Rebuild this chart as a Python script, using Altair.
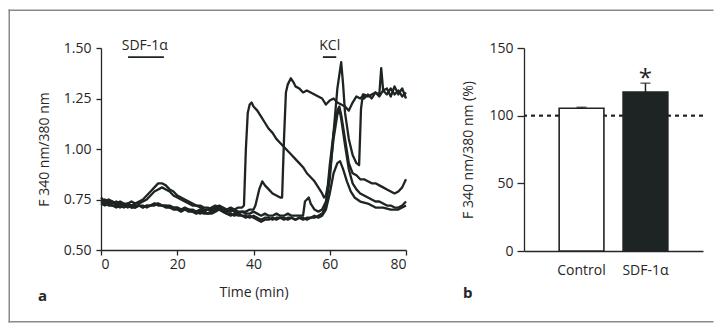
import altair as alt
import pandas as pd

# ---------------- panel a: ratio traces ----------------
A_t = list(range(0, 38)) + [37.5, 38, 38.5, 39, 39.5] + list(range(40, 59)) + \
      [58.5, 59, 59.5, 60, 61, 62, 62.5, 63, 64] + list(range(65, 81))
A_v = [0.75, 0.74, 0.75, 0.74, 0.73, 0.74, 0.73, 0.73, 0.74, 0.73,
       0.74, 0.75, 0.77, 0.79, 0.81, 0.83, 0.83, 0.82, 0.80, 0.79,
       0.77, 0.76, 0.75, 0.74, 0.73, 0.72, 0.72, 0.71, 0.71, 0.70,
       0.71, 0.72, 0.71, 0.70, 0.71, 0.70, 0.71, 0.71,
       0.72, 1.00, 1.18, 1.22, 1.23,
       1.21, 1.19, 1.16, 1.13, 1.10, 1.08, 1.05, 1.03, 1.01, 0.99,
       0.97, 0.95, 0.93, 0.91, 0.88, 0.86, 0.84, 0.81, 0.78,
       0.76, 0.77, 0.82, 0.92, 1.08, 1.19, 1.21, 1.17, 1.05,
       0.93, 0.88, 0.87, 0.85, 0.85, 0.84, 0.83, 0.83, 0.82, 0.81,
       0.80, 0.79, 0.78, 0.79, 0.81, 0.85]

B_t = list(range(0, 41)) + [40.5, 41.5, 42.3, 43, 44, 45, 46, 47, 47.5, 48, 48.5, 49, 49.8, 50.5] + \
      list(range(51, 81))
B_v = [0.74, 0.75, 0.74, 0.73, 0.74, 0.73, 0.72, 0.73, 0.72, 0.73,
       0.73, 0.74, 0.75, 0.77, 0.79, 0.80, 0.81, 0.80, 0.79, 0.77,
       0.76, 0.75, 0.74, 0.73, 0.72, 0.72, 0.71, 0.70, 0.70, 0.69,
       0.70, 0.71, 0.70, 0.69, 0.69, 0.70, 0.69, 0.69, 0.69, 0.70,
       0.70,
       0.72, 0.80, 0.84, 0.82, 0.80, 0.78, 0.77, 0.76, 0.76, 1.05, 1.28, 1.32, 1.35, 1.33,
       1.31, 1.30, 1.28, 1.29, 1.28, 1.27, 1.26, 1.25, 1.22, 1.24,
       1.25, 1.23, 1.22, 1.21, 1.19, 1.23, 1.26, 1.25, 1.27, 1.26,
       1.27, 1.28, 1.26, 1.29, 1.27, 1.30, 1.27, 1.29, 1.26, 1.28]

C_t = list(range(0, 60)) + [60, 61, 62, 63, 63.5, 64, 65, 66, 67, 67.7, 68.2, 68.7] + \
      [69, 70, 71, 72, 73, 73.5, 74, 75, 76, 77, 78, 79, 80]
C_v = [0.73, 0.72, 0.73, 0.72, 0.72, 0.71, 0.72, 0.72, 0.71, 0.72,
       0.72, 0.71, 0.72, 0.72, 0.73, 0.72, 0.72, 0.71, 0.71, 0.70,
       0.70, 0.69, 0.70, 0.69, 0.69, 0.68, 0.69, 0.68, 0.68, 0.69,
       0.70, 0.70, 0.69, 0.68, 0.68, 0.67, 0.68, 0.67, 0.67, 0.66,
       0.67, 0.66, 0.65, 0.66, 0.66, 0.65, 0.66, 0.66, 0.65, 0.66,
       0.66, 0.65, 0.66, 0.66, 0.65, 0.66, 0.66, 0.67, 0.68, 0.72,
       0.85, 1.08, 1.30, 1.43, 1.32, 1.18, 1.05, 0.97, 0.93, 0.92, 1.20, 1.27,
       1.25, 1.27, 1.25, 1.28, 1.27, 1.40, 1.29, 1.30, 1.26, 1.31, 1.27, 1.30, 1.25]

D_t = list(range(0, 54)) + [53.5, 54.5, 55, 56, 57, 58, 59, 60, 61, 62, 62.5, 63, 64] + \
      list(range(65, 81))
D_v = [0.76, 0.74, 0.73, 0.74, 0.72, 0.73, 0.72, 0.71, 0.72, 0.71,
       0.72, 0.72, 0.71, 0.72, 0.72, 0.73, 0.72, 0.72, 0.72, 0.71,
       0.71, 0.70, 0.70, 0.70, 0.69, 0.69, 0.70, 0.69, 0.70, 0.71,
       0.72, 0.71, 0.70, 0.69, 0.70, 0.69, 0.68, 0.69, 0.68, 0.68,
       0.69, 0.68, 0.67, 0.68, 0.67, 0.67, 0.68, 0.67, 0.67, 0.68,
       0.67, 0.67, 0.67, 0.67,
       0.74, 0.76, 0.73, 0.70, 0.69, 0.70, 0.74, 0.88, 1.05, 1.17, 1.20, 1.15, 1.02,
       0.90, 0.83, 0.80, 0.78, 0.77, 0.76, 0.75, 0.74, 0.74, 0.73,
       0.72, 0.72, 0.71, 0.71, 0.72, 0.74]

E_t = list(range(0, 62)) + [62, 62.7, 63.5, 64.5, 65.5, 66.5, 68, 70, 72, 74, 76, 78, 79, 80]
E_v = [0.74, 0.73, 0.72, 0.72, 0.71, 0.72, 0.71, 0.72, 0.71, 0.71,
       0.72, 0.71, 0.72, 0.72, 0.73, 0.73, 0.72, 0.72, 0.71, 0.71,
       0.71, 0.70, 0.71, 0.70, 0.70, 0.69, 0.68, 0.69, 0.68, 0.68,
       0.69, 0.70, 0.69, 0.68, 0.67, 0.68, 0.67, 0.67, 0.66, 0.67,
       0.66, 0.65, 0.64, 0.65, 0.65, 0.66, 0.65, 0.66, 0.66, 0.65,
       0.66, 0.65, 0.66, 0.65, 0.66, 0.66, 0.67, 0.66, 0.67, 0.70,
       0.78, 0.88,
       0.93, 0.94, 0.90, 0.84, 0.79, 0.76, 0.74, 0.73, 0.71, 0.71, 0.70, 0.70, 0.71, 0.72]

x_ticks = [0, 20, 40, 60, 80]
y_ticks = [0.5, 0.75, 1.0, 1.25, 1.5]

# stimulus annotations
stim_label = ["SDF-1\u03b1", "KCl"]
stim_start = [7.1, 58.2]
stim_end = [16.5, 61.7]
stim_text_t = [11.5, 60.0]
stim_bar_v = [1.455, 1.455]
stim_text_v = [1.512, 1.512]

# ---------------- panel b: bars ----------------
groups = ["Control", "SDF-1\u03b1"]
means = [105.5, 117.5]
errs = [0.7, 6.5]
bar_ticks = [0, 50, 100, 150]

FONT = "Open Sans"
INK = "#1e2424"
AX = "#262626"
FRAME = "#8a8a8a"

rows = []
for name, ts, vs in [("A", A_t, A_v), ("B", B_t, B_v), ("C", C_t, C_v),
                     ("D", D_t, D_v), ("E", E_t, E_v)]:
    assert len(ts) == len(vs), name
    rows += [{"trace": name, "t": t, "v": v} for t, v in zip(ts, vs)]
df = pd.DataFrame(rows)

stim = pd.DataFrame({"label": stim_label, "t0": stim_start, "t1": stim_end,
                     "tt": stim_text_t, "vb": stim_bar_v, "vt": stim_text_v})
one = pd.DataFrame({"k": [0]})


def frame_line(x0, x1, y0, y1):
    # thin filled rectangle used as a frame line
    return alt.Chart(one).mark_rect(color=FRAME, strokeWidth=0).encode(
        x=alt.value(x0), x2=alt.value(x1), y=alt.value(y0), y2=alt.value(y1))


xs = alt.Scale(domain=[0, 80], nice=False)
ys = alt.Scale(domain=[0.5, 1.5], nice=False)

lines = alt.Chart(df).mark_line(color=INK, strokeWidth=2.3, strokeJoin="round").encode(
    x=alt.X("t:Q", scale=xs,
            axis=alt.Axis(values=x_ticks, title="Time (min)", tickSize=5, labelPadding=2,
                          titlePadding=14)),
    y=alt.Y("v:Q", scale=ys,
            axis=alt.Axis(values=y_ticks, format=".2f", title="F 340 nm/380 nm",
                          tickSize=5, labelPadding=5, titlePadding=12)),
    detail="trace:N",
)

stim_bars = alt.Chart(stim).mark_rule(color=INK, strokeWidth=1.8).encode(
    x="t0:Q", x2="t1:Q", y="vb:Q")
stim_text = alt.Chart(stim).mark_text(font=FONT, fontSize=14, color=AX, baseline="middle").encode(
    x="tt:Q", y="vt:Q", text="label:N")

# frame around the whole figure (drawn from panel a, layout uses flush bounds)
frame_a = [
    frame_line(-92.5, -91, -38.5, 274.5),
    frame_line(-92.5, 612.5, -38.5, -37),
    frame_line(-92.5, 612.5, 273, 274.5),
]
label_a = alt.Chart(one).mark_text(font=FONT, fontSize=15, fontWeight="bold", color=AX,
                                   align="left", baseline="alphabetic").encode(
    x=alt.value(-63), y=alt.value(253), text=alt.value("a"))

panel_a = alt.layer(*frame_a, lines, stim_bars, stim_text, label_a).properties(width=305, height=202)

bdf = pd.DataFrame({"group": groups, "mean": means, "err": errs})
bdf["top"] = bdf["mean"] + bdf["err"]

bx = alt.X("group:N", sort=groups,
           scale=alt.Scale(paddingInner=0.3, paddingOuter=0.55),
           axis=alt.Axis(title=None, ticks=False, labelPadding=12, labelAngle=0))
by_scale = alt.Scale(domain=[0, 150], nice=False)

dashed = alt.Chart(bdf).mark_rule(color=INK, strokeWidth=1.6, strokeDash=[4, 4]).encode(
    y=alt.datum(100, scale=by_scale))
bars = alt.Chart(bdf).mark_bar(stroke=INK, strokeWidth=1.6).encode(
    x=bx,
    y=alt.Y("mean:Q", scale=by_scale,
            axis=alt.Axis(values=bar_ticks, title="F 340 nm/380 nm (%)", tickSize=7,
                          labelPadding=4, titlePadding=13)),
    fill=alt.Fill("group:N", sort=groups,
                  scale=alt.Scale(domain=groups, range=["#ffffff", INK]), legend=None),
)
err_rule = alt.Chart(bdf).mark_rule(color=INK, strokeWidth=1.5).encode(
    x=alt.X("group:N", sort=groups), y="mean:Q", y2="top:Q")
err_cap = alt.Chart(bdf).mark_tick(color=INK, thickness=1.5, size=10).encode(
    x=alt.X("group:N", sort=groups), y="top:Q")
star = alt.Chart(bdf[bdf["group"] == groups[1]]).mark_text(
    font=FONT, fontSize=24, color=INK, baseline="middle", dy=5).encode(
    x=alt.X("group:N", sort=groups), y=alt.datum(131), text=alt.value("*"))

label_b = alt.Chart(one).mark_text(font=FONT, fontSize=15, fontWeight="bold", color=AX,
                                   align="left", baseline="alphabetic").encode(
    x=alt.value(-61), y=alt.value(250), text=alt.value("b"))

panel_b = alt.layer(dashed, bars, err_rule, err_cap, star, label_b).properties(
    width=179, height=203)

chart = alt.hconcat(panel_a, panel_b, spacing=118, bounds="flush").properties(
    padding={"left": 0, "top": 1, "right": 0, "bottom": 0}
).configure_view(strokeWidth=0).configure_axis(
    grid=False, labelFont=FONT, titleFont=FONT, labelFontSize=14, titleFontSize=14,
    titleFontWeight="normal", labelColor=AX, titleColor=AX, domainColor=AX, tickColor=AX,
    domainWidth=1.3, tickWidth=1.3
)

chart.save("out.html", embed_options={"renderer": "svg", "actions": False})
